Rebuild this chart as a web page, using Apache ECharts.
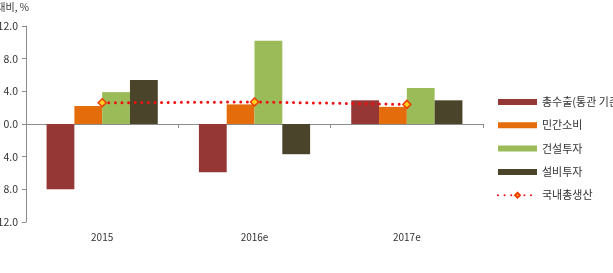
<!DOCTYPE html>
<html><head><meta charset="utf-8">
<script src="https://cdn.jsdelivr.net/npm/echarts@6/dist/echarts.min.js"></script>
<style>html,body{margin:0;padding:0;background:#fff}#c{width:613px;height:273px}</style>
</head><body><div id="c"></div>
<script>
var categories = ['2015', '2016e', '2017e'];
var seriesNames = ['총수출(통관 기준)', '민간소비', '건설투자', '설비투자', '국내총생산'];
var exportsV = [-8.0, -5.9, 2.9];
var consumption = [2.2, 2.4, 2.1];
var construction = [3.9, 10.2, 4.4];
var equipment = [5.4, -3.7, 2.9];
var gdp = [2.6, 2.7, 2.4];
var yTicks = { min: -12, max: 12, step: 4 };
var yName = '전년대비, %';

var FONT = '"Noto Sans CJK KR", "Noto Sans", sans-serif';
var chart = echarts.init(document.getElementById('c'), null, { renderer: 'canvas' });
var barColors = ['#953735', '#E46C0A', '#9BBB59', '#4A452A'];
var barData = [exportsV, consumption, construction, equipment];
var series = barData.map(function (d, i) {
  return {
    name: seriesNames[i], type: 'bar', data: d, xAxisIndex: 0,
    barGap: '0%', barCategoryGap: '27%',
    itemStyle: { color: barColors[i] }
  };
});
series.push({
  name: seriesNames[4], type: 'line', data: gdp, xAxisIndex: 0,
  symbol: 'diamond', symbolSize: 8,
  itemStyle: { color: '#FFD21F', borderColor: '#F03C00', borderWidth: 1.5 },
  lineStyle: { color: '#EE1111', width: 3, type: [0, 6.6], cap: 'round' },
  z: 5
});
chart.setOption({
  animation: false,
  textStyle: { fontFamily: FONT },
  grid: { left: 26, top: 26, right: 130, bottom: 51, containLabel: false, outerBoundsMode: 'none' },
  xAxis: [{
    type: 'category', data: categories,
    axisLine: { onZero: true, lineStyle: { color: '#8c8c8c', width: 1 } },
    axisTick: { show: true, length: 4, inside: false, lineStyle: { color: '#8c8c8c' } },
    axisLabel: { show: false }
  }, {
    type: 'category', data: categories, position: 'bottom',
    axisLine: { show: false, onZero: false }, axisTick: { show: false },
    axisLabel: { color: '#333', fontSize: 10, margin: 10, fontFamily: FONT }
  }],
  yAxis: {
    type: 'value', min: yTicks.min, max: yTicks.max, interval: yTicks.step,
    splitLine: { show: false },
    axisLine: { show: true, lineStyle: { color: '#8c8c8c' } },
    axisTick: { show: true, length: 4, lineStyle: { color: '#8c8c8c' } },
    axisLabel: {
      color: '#333', fontSize: 10.5, margin: 8, fontFamily: FONT,
      formatter: function (v) { return Math.abs(v).toFixed(1); }
    }
  },
  legend: {
    orient: 'vertical', left: 497, top: 95, padding: 0,
    itemWidth: 39, itemHeight: 6, itemGap: 9.3,
    textStyle: { fontSize: 11, color: '#333', lineHeight: 14, fontFamily: FONT },
    data: seriesNames.map(function (n, i) {
      return i < 4 ? { name: n, icon: 'rect' } : { name: n };
    })
  },
  graphic: [{
    type: 'text', x: 29, y: 2,
    style: { text: yName, textAlign: 'right', font: '10px ' + FONT, fill: '#333' }
  }],
  series: series
});
</script></body></html>
